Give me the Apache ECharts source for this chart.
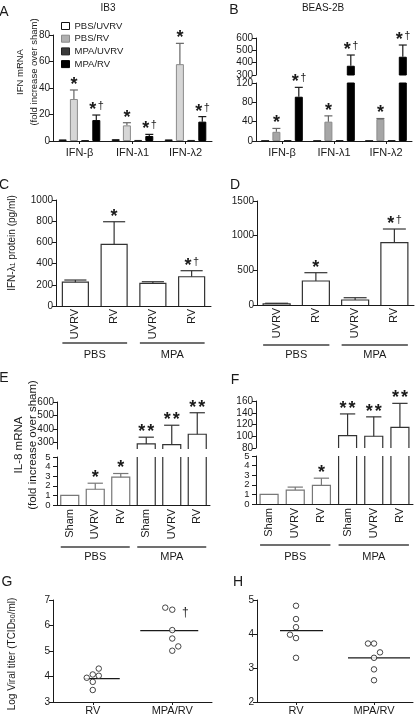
<!DOCTYPE html>
<html><head><meta charset="utf-8">
<script src="https://cdn.jsdelivr.net/npm/echarts@6/dist/echarts.min.js"></script>
<style>html,body{margin:0;padding:0;background:#fff}#c{width:416px;height:716px}</style>
</head><body><div id="c"></div>
<script>
// ---------------- data ----------------
const groupNames = ['PBS/UVRV', 'PBS/RV', 'MPA/UVRV', 'MPA/RV'];
const ifnGenes = ['IFN-β', 'IFN-λ1', 'IFN-λ2'];
// A: IB3, IFN mRNA (fold increase over sham)
const aPbsUvrv = [1.2, 1.4, 1.2];
const aPbsRv = [31.7, 11.8, 58.0];
const aPbsRvErr = [6.8, 2.0, 15.7];
const aMpaUvrv = [0.7, 0.8, 0.8];
const aMpaRv = [15.8, 3.8, 14.6];
const aMpaRvErr = [3.8, 1.2, 3.8];
// B: BEAS-2B
const bPbsUvrv = [0.5, 0.5, 0.5];
const bPbsRv = [19, 40, 45.5];
const bPbsRvErr = [7, 12, 1];
const bMpaUvrv = [1.5, 1.5, 1.5];
const bMpaRv = [91.6, 375, 448];
const bMpaRvErr = [19.4, 87, 95];
const marksPbsRv = ['*', '*', '*'];
const marksMpaRv = ['*†', '*†', '*†'];
// C, D: IFN-λ1 protein (pg/ml)
const proteinCats = ['UVRV', 'RV', 'UVRV', 'RV'];
const treatGroups = ['PBS', 'MPA'];
const cVals = [225, 582, 214, 276];
const cErrs = [20, 213, 15, 57];
const cMarks = ['', '*', '', '*†'];
const dVals = [15, 346, 72, 899];
const dErrs = [10, 120, 33, 197];
const dMarks = ['', '*', '', '*†'];
// E, F: IL-8 mRNA
const il8Cats = ['Sham', 'UVRV', 'RV', 'Sham', 'UVRV', 'RV'];
const eVals = [1, 1.64, 2.9, 288, 282, 360];
const eErrs = [0, 0.63, 0.38, 50, 145, 160];
const eMarks = ['', '*', '*', '**', '**', '**'];
const fVals = [1, 1.45, 1.93, 101, 100, 115];
const fErrs = [0, 0.31, 0.76, 37, 33, 41];
const fMarks = ['', '', '*', '**', '**', '**'];
const il8LowTicks = [0, 1, 2, 3, 4, 5];
const eHighTicks = [300, 400, 500, 600];
// G, H: Log viral titer
const titerCats = ['RV', 'MPA/RV'];
const gRv = [3.95, 4.08, 4.31, 4.03, 3.79, 3.47];
const gMpaRv = [6.70, 6.62, 5.82, 5.49, 5.01, 5.18];
const gMedians = [3.92, 5.80];
const hRv = [4.83, 4.44, 4.20, 3.98, 3.88, 3.30];
const hMpaRv = [3.72, 3.72, 3.46, 3.30, 2.96, 2.64];
const hMedians = [4.10, 3.30];

// ---------------- style ----------------
const FONT = '"Liberation Sans", Arial, Helvetica, sans-serif';
const INK = '#1a1a1a';
const aFill = ['#ffffff', '#d6d6d6', '#3a3a3a', '#000000'];
const aStroke = ['#111111', '#8a8a8a', '#222222', '#000000'];
const bFill = ['#ffffff', '#a6a6a6', '#3a3a3a', '#000000'];
const bStroke = ['#111111', '#8a8a8a', '#222222', '#000000'];
const gJit = [[-6, 0, 6, 6, 0, 0], [-7, 0, 0, 0, 0, 6]];
const hJit = [[0, 0, 0, -6, 0, 0], [-6, 0, 6, 0, 0, 0]];
const gMedSpan = [[-8, 27], [-32, 26]];
const hMedSpan = [[-16, 27], [-26, 36]];
const STAR = {fontSize: 18, fontWeight: 'bold', fontFamily: FONT, fill: INK, align: 'center', verticalAlign: 'middle'};
const DAG = {fontSize: 11, fontFamily: FONT, fill: INK, align: 'center', verticalAlign: 'middle'};

function markEls(x, yTop, mark, gap) {
  const els = [];
  if (!mark) return els;
  const y = yTop - gap;
  if (mark === '*') els.push({type: 'text', x: x, y: y, style: Object.assign({text: '*'}, STAR)});
  else if (mark === '**') {
    els.push({type: 'text', x: x - 4.5, y: y, style: Object.assign({text: '*'}, STAR)});
    els.push({type: 'text', x: x + 4.5, y: y, style: Object.assign({text: '*'}, STAR)});
  } else if (mark === '*†') {
    els.push({type: 'text', x: x - 3.5, y: y, style: Object.assign({text: '*'}, STAR)});
    els.push({type: 'text', x: x + 4.5, y: y - 4, style: Object.assign({text: '†'}, DAG)});
  }
  return els;
}
function errEls(x, yv, ye, cs, capW, color) {
  const top = cs.y, bot = cs.y + cs.height;
  if (ye > bot || yv < top) return [];
  const y1 = Math.max(ye, top), y0 = Math.min(yv, bot);
  const els = [{type: 'line', shape: {x1: x, y1: y0, x2: x, y2: y1}, style: {stroke: color, lineWidth: 1.2}}];
  if (ye >= top - 0.5) els.push({type: 'line', shape: {x1: x - capW / 2, y1: ye, x2: x + capW / 2, y2: ye}, style: {stroke: color, lineWidth: 1.2}});
  return els;
}
function groupedErr(xi, yi, idx, vals, errs, marks, color) {
  const offset = -16.8 + 11.2 * idx;
  return {type: 'custom', xAxisIndex: xi, yAxisIndex: yi, silent: true, z: 5,
    data: vals.map((v, i) => [i, v, errs[i]]),
    renderItem: (params, api) => {
      const cs = params.coordSys, i = params.dataIndex;
      const c = api.value(0), v = api.value(1), e = api.value(2);
      const pv = api.coord([c, v]), pe = api.coord([c, v + e]);
      const x = pv[0] + offset;
      const children = errEls(x, pv[1], pe[1], cs, 8, color);
      if (pe[1] >= cs.y - 0.5 && pe[1] <= cs.y + cs.height) children.push(...markEls(x, pe[1], marks[i], 5));
      return {type: 'group', children};
    }};
}
function boxBars(xi, yi, vals, errs, marks, bw, strokes) {
  return {type: 'custom', xAxisIndex: xi, yAxisIndex: yi, silent: true, z: 4,
    data: vals.map((v, i) => [i, v, errs[i]]),
    renderItem: (params, api) => {
      const cs = params.coordSys, i = params.dataIndex;
      const c = api.value(0), v = api.value(1), e = api.value(2);
      const pv = api.coord([c, v]), p0 = api.coord([c, 0]), pe = api.coord([c, v + e]);
      const x = pv[0], top = cs.y, bot = cs.y + cs.height, col = strokes[i];
      const children = [];
      if (pv[1] <= bot) {
        const yt = Math.max(pv[1], top), yb = Math.min(p0[1], bot);
        const xl = x - bw / 2, xr = x + bw / 2;
        if (pv[1] >= top) {
          children.push({type: 'polyline', shape: {points: [[xl, yb], [xl, yt], [xr, yt], [xr, yb]]}, style: {stroke: col, lineWidth: 1.2, fill: null}});
        } else {
          children.push({type: 'line', shape: {x1: xl, y1: yt, x2: xl, y2: yb}, style: {stroke: col, lineWidth: 1.2}});
          children.push({type: 'line', shape: {x1: xr, y1: yt, x2: xr, y2: yb}, style: {stroke: col, lineWidth: 1.2}});
        }
      }
      if (e > 0) children.push(...errEls(x, pv[1], pe[1], cs, bw * 0.85, col));
      if (pe[1] >= top - 0.5 && pe[1] <= bot) children.push(...markEls(x, pe[1], marks[i], 5));
      return {type: 'group', children};
    }};
}
function groupLines(xi, yi, spans, labels, bw, dy1, dy2) {
  return {type: 'custom', xAxisIndex: xi, yAxisIndex: yi, silent: true,
    data: spans,
    renderItem: (params, api) => {
      const cs = params.coordSys;
      const a = api.coord([api.value(0), 0])[0] - bw / 2;
      const b = api.coord([api.value(1), 0])[0] + bw / 2;
      const y = cs.y + cs.height + dy1;
      return {type: 'group', children: [
        {type: 'line', shape: {x1: a, y1: y, x2: b, y2: y}, style: {stroke: '#707070', lineWidth: 2}},
        {type: 'text', x: (a + b) / 2, y: cs.y + cs.height + dy2, style: {text: labels[params.dataIndex], fontSize: 11, fontFamily: FONT, fill: INK, align: 'center', verticalAlign: 'middle'}}
      ]};
    }};
}
function medians(xi, yi, meds, spans) {
  return {type: 'custom', xAxisIndex: xi, yAxisIndex: yi, silent: true,
    data: meds.map((m, i) => [i, m]),
    renderItem: (params, api) => {
      const p = api.coord([api.value(0), api.value(1)]);
      const s = spans[params.dataIndex];
      return {type: 'line', shape: {x1: p[0] + s[0], y1: p[1], x2: p[0] + s[1], y2: p[1]}, style: {stroke: INK, lineWidth: 1.2}};
    }};
}
function dots(xi, yi, cat, vals, jit) {
  return {type: 'scatter', xAxisIndex: xi, yAxisIndex: yi, symbol: 'circle', symbolSize: 5.5, silent: true,
    itemStyle: {color: '#fff', borderColor: INK, borderWidth: 1},
    data: vals.map((v, i) => ({value: [cat, v], symbolOffset: [jit[i], 0]}))};
}
// tick labels for the tightly packed broken axes, placed by the axis scale
function tickLabels(xi, yi, ticks, fs) {
  return {type: 'custom', xAxisIndex: xi, yAxisIndex: yi, silent: true,
    data: ticks.map(t => [0, t]),
    renderItem: (params, api) => {
      const cs = params.coordSys;
      const y = api.coord([0, api.value(1)])[1];
      return {type: 'text', x: cs.x - 6.5, y: y,
        style: {text: String(ticks[params.dataIndex]), fontSize: fs, fontFamily: FONT, fill: INK, align: 'right', verticalAlign: 'middle'}};
    }};
}

const grids = [
  {left: 53, top: 35, width: 159, height: 106},   // 0 A
  {left: 256, top: 38, width: 156, height: 37},   // 1 B upper
  {left: 256, top: 83, width: 156, height: 58},   // 2 B lower
  {left: 56, top: 200, width: 155, height: 106},  // 3 C
  {left: 257, top: 201, width: 157, height: 104}, // 4 D
  {left: 57, top: 402, width: 153, height: 47},   // 5 E upper
  {left: 57, top: 457, width: 153, height: 48},   // 6 E lower
  {left: 256, top: 401, width: 157, height: 47},  // 7 F upper
  {left: 256, top: 456, width: 157, height: 48},  // 8 F lower
  {left: 53, top: 600, width: 159, height: 104},  // 9 G
  {left: 257, top: 600, width: 156, height: 103}  // 10 H
];

const axLine = {show: true, lineStyle: {color: INK, width: 1}};
function yAx(gi, min, max, interval, custom, hideLabels) {
  const ax = {type: 'value', gridIndex: gi, min, max,
    axisLine: axLine,
    axisTick: {show: true, length: 4, lineStyle: {color: INK}},
    axisLabel: {show: !hideLabels, fontSize: 10, lineHeight: 7, color: INK, fontFamily: FONT, margin: 3, showMinLabel: true, showMaxLabel: true,
      hideOverlap: false, formatter: v => String(v)},
    splitLine: {show: false}};
  if (interval) ax.interval = interval;
  if (custom) { ax.axisLabel.customValues = custom; ax.axisTick.customValues = custom; }
  return ax;
}
function xAx(gi, cats, opt) {
  opt = opt || {};
  return {type: 'category', gridIndex: gi, data: cats, show: opt.show !== false,
    axisLine: axLine,
    axisTick: {show: !!opt.tick, alignWithLabel: true, length: 3, lineStyle: {color: INK}},
    axisLabel: {fontSize: 11, color: INK, fontFamily: FONT, margin: opt.margin || 6, rotate: opt.rotate || 0, interval: 0}};
}

const xAxis = [
  xAx(0, ifnGenes, {tick: true, margin: 6}),
  xAx(1, ifnGenes, {show: false}),
  xAx(2, ifnGenes, {tick: true, margin: 6}),
  xAx(3, proteinCats, {rotate: 90, margin: 3}),
  xAx(4, proteinCats, {rotate: 90, margin: 3}),
  xAx(5, il8Cats, {show: false}),
  xAx(6, il8Cats, {rotate: 90, margin: 4}),
  xAx(7, il8Cats, {show: false}),
  xAx(8, il8Cats, {rotate: 90, margin: 4}),
  xAx(9, titerCats, {tick: true, margin: 3}),
  xAx(10, titerCats, {tick: true, margin: 3})
];
const yAxis = [
  yAx(0, 0, 80, 20),
  yAx(1, 300, 600, 100),
  yAx(2, 0, 120, 40),
  yAx(3, 0, 1000, 200),
  yAx(4, 0, 1500, 500),
  yAx(5, 250, 600, null, eHighTicks),
  yAx(6, 0, 5, null, il8LowTicks, true),
  yAx(7, 80, 160, 20),
  yAx(8, 0, 5, null, il8LowTicks, true),
  yAx(9, 3, 7, 1),
  yAx(10, 2, 5, 1)
];

const aData = [aPbsUvrv, aPbsRv, aMpaUvrv, aMpaRv];
const bData = [bPbsUvrv, bPbsRv, bMpaUvrv, bMpaRv];
const series = [];
groupNames.forEach((n, k) => {
  series.push({type: 'bar', name: n, xAxisIndex: 0, yAxisIndex: 0, barWidth: 8, barGap: '40%', silent: true,
    itemStyle: {color: aFill[k], borderColor: aStroke[k], borderWidth: 1}, data: aData[k]});
});
groupNames.forEach((n, k) => {
  series.push({type: 'bar', name: n, xAxisIndex: 2, yAxisIndex: 2, barWidth: 8, barGap: '40%', silent: true,
    itemStyle: {color: bFill[k], borderColor: bStroke[k], borderWidth: 1}, data: bData[k]});
  series.push({type: 'bar', name: n, xAxisIndex: 1, yAxisIndex: 1, barWidth: 8, barGap: '40%', silent: true,
    itemStyle: {color: bFill[k], borderColor: bStroke[k], borderWidth: 1},
    data: bData[k].map(v => (v > 300 ? v : '-'))});
});
series.push(groupedErr(0, 0, 1, aPbsRv, aPbsRvErr, marksPbsRv, '#666'));
series.push(groupedErr(0, 0, 3, aMpaRv, aMpaRvErr, marksMpaRv, INK));
series.push(groupedErr(2, 2, 1, bPbsRv, bPbsRvErr, marksPbsRv, '#666'));
series.push(groupedErr(2, 2, 3, bMpaRv, bMpaRvErr, marksMpaRv, INK));
series.push(groupedErr(1, 1, 3, bMpaRv, bMpaRvErr, marksMpaRv, INK));

const cdStroke = ['#333', '#333', '#333', '#333'];
const efStroke = ['#777', '#777', '#777', '#333', '#333', '#333'];
series.push(boxBars(3, 3, cVals, cErrs, cMarks, 26, cdStroke));
series.push(groupLines(3, 3, [[0, 1], [2, 3]], treatGroups, 26, 37, 49));
series.push(boxBars(4, 4, dVals, dErrs, dMarks, 27, cdStroke));
series.push(groupLines(4, 4, [[0, 1], [2, 3]], treatGroups, 27, 40, 50));
series.push(boxBars(5, 5, eVals, eErrs, eMarks, 18, efStroke));
series.push(boxBars(6, 6, eVals, eErrs, eMarks, 18, efStroke));
series.push(groupLines(6, 6, [[0, 2], [3, 5]], treatGroups, 18, 42, 52));
series.push(tickLabels(6, 6, il8LowTicks, 9.5));
series.push(boxBars(7, 7, fVals, fErrs, fMarks, 18, efStroke));
series.push(boxBars(8, 8, fVals, fErrs, fMarks, 18, efStroke));
series.push(groupLines(8, 8, [[0, 2], [3, 5]], treatGroups, 18, 41, 53));
series.push(tickLabels(8, 8, il8LowTicks, 9.5));

series.push(dots(9, 9, 0, gRv, gJit[0]));
series.push(dots(9, 9, 1, gMpaRv, gJit[1]));
series.push(medians(9, 9, gMedians, gMedSpan));
series.push({type: 'custom', xAxisIndex: 9, yAxisIndex: 9, silent: true,
  data: [[1, Math.max.apply(null, gMpaRv)]],
  renderItem: (params, api) => {
    const p = api.coord([api.value(0), api.value(1)]);
    return {type: 'text', x: p[0] + 13, y: p[1] + 5, style: {text: '†', fontSize: 12, fontFamily: FONT, fill: INK, align: 'center', verticalAlign: 'middle'}};
  }});
series.push(dots(10, 10, 0, hRv, hJit[0]));
series.push(dots(10, 10, 1, hMpaRv, hJit[1]));
series.push(medians(10, 10, hMedians, hMedSpan));

function label(t, x, y, size, extra) {
  return Object.assign({type: 'text', x, y, silent: true,
    style: {text: t, fontSize: size, fontFamily: FONT, fill: INK, align: 'center', verticalAlign: 'middle'}}, extra || {});
}
function vlabel(t, x, y, size, lh, rich) {
  const el = label(t, x, y, size, {rotation: Math.PI / 2});
  if (lh) el.style.lineHeight = lh;
  if (rich) el.style.rich = rich;
  return el;
}
const subRich = {s: {fontSize: 7, fontFamily: FONT, fill: INK, verticalAlign: 'bottom'}};
const graphic = [
  label('A', 4, 12, 14), label('B', 234, 10, 14), label('C', 4, 185, 14), label('D', 235, 185, 14),
  label('E', 4, 378, 14), label('F', 235, 380, 14), label('G', 7, 582, 14), label('H', 238, 582, 14),
  label('IB3', 108, 8, 10), label('BEAS-2B', 323, 8, 10),
  vlabel('IFN mRNA\n(fold increase over sham)', 27, 72, 9.5, 14),
  vlabel('IFN-λ{s|1} protein (pg/ml)', 12, 243, 10, null, subRich),
  vlabel('IL-8 mRNA\n(fold increase over sham)', 26, 445, 11.5, 14),
  vlabel('Log Viral titer (TCID{s|50}/ml)', 12, 654, 10, null, subRich)
];

const chart = echarts.init(document.getElementById('c'), null, {renderer: 'canvas'});
chart.setOption({
  animation: false,
  backgroundColor: '#fff',
  grid: grids,
  xAxis, yAxis, series, graphic,
  legend: {left: 61, top: 21, orient: 'vertical', padding: 0, itemWidth: 8, itemHeight: 7, itemGap: 2.7,
    selectedMode: false,
    textStyle: {fontSize: 9.5, fontFamily: FONT, color: INK},
    data: groupNames.map((n, i) => ({name: n, icon: 'rect', itemStyle: {color: i === 1 ? '#b0b0b0' : aFill[i], borderColor: aStroke[i], borderWidth: 1}}))}
});
</script></body></html>
